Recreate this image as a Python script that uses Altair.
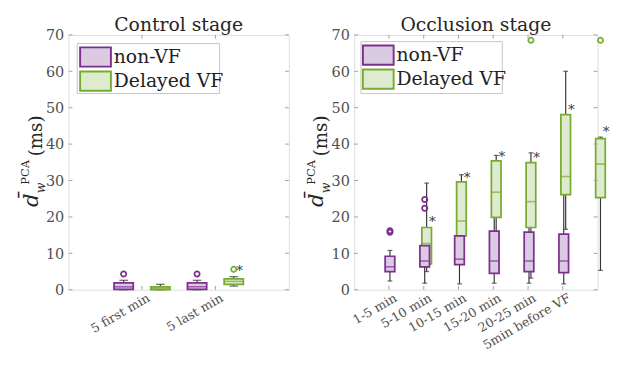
import altair as alt
import pandas as pd

FONT = "DejaVu Serif"
GROUPS = ["non-VF", "Delayed VF"]
P_STROKE, P_FILL = "#7e2f8e", "#dacbe2"
G_STROKE, G_FILL = "#77ac30", "#dfebd1"
WHISK_C = "#333333"
LABEL_C = "#505050"
FRAME_C = "#b8b8b8"

# ---------------- Control stage ----------------
ctrl_title = "Control stage"
ctrl_cats = ["5 first min", "5 last min"]
ctrl_nonvf_lo = [0.0, 0.0]
ctrl_nonvf_q1 = [0.1, 0.1]
ctrl_nonvf_med = [0.8, 0.8]
ctrl_nonvf_q3 = [1.9, 1.9]
ctrl_nonvf_hi = [2.6, 2.6]
ctrl_vf_lo = [0.0, 1.0]
ctrl_vf_q1 = [0.05, 1.5]
ctrl_vf_med = [0.4, 2.3]
ctrl_vf_q3 = [0.8, 3.0]
ctrl_vf_hi = [1.5, 3.6]
ctrl_out_cat = ["5 first min", "5 last min", "5 last min"]
ctrl_out_grp = ["non-VF", "non-VF", "Delayed VF"]
ctrl_out_val = [4.3, 4.3, 5.6]
ctrl_star_cat = ["5 last min"]
ctrl_star_val = [6.3]

# ---------------- Occlusion stage ----------------
occ_title = "Occlusion stage"
occ_cats = ["1-5 min", "5-10 min", "10-15 min", "15-20 min", "20-25 min", "5min before VF"]
occ_nonvf_lo = [2.4, 1.8, 1.6, 1.8, 1.8, 1.6]
occ_nonvf_q1 = [5.0, 6.3, 6.9, 4.5, 5.0, 4.7]
occ_nonvf_med = [6.3, 7.9, 8.4, 7.9, 7.9, 7.9]
occ_nonvf_q3 = [9.2, 12.1, 14.8, 16.1, 15.8, 15.3]
occ_nonvf_hi = [10.8, 13.7, 23.7, 26.4, 28.8, 27.7]
occ_vf_lo = [5.0, 8.7, 5.3, 3.2, 16.6, 5.3]
occ_vf_q1 = [7.1, 14.8, 19.9, 17.1, 26.1, 25.3]
occ_vf_med = [12.7, 18.9, 26.8, 24.2, 31.1, 34.5]
occ_vf_q3 = [17.1, 29.6, 35.4, 34.9, 48.1, 41.5]
occ_vf_hi = [29.3, 31.6, 36.9, 37.6, 60.0, 41.9]
occ_out_cat = ["1-5 min", "1-5 min", "5-10 min", "5-10 min", "15-20 min", "5min before VF"]
occ_out_grp = ["non-VF", "non-VF", "non-VF", "non-VF", "Delayed VF", "Delayed VF"]
occ_out_val = [15.8, 16.2, 22.4, 24.8, 68.5, 68.5]
occ_star_cat = ["1-5 min", "5-10 min", "10-15 min", "15-20 min", "20-25 min", "5min before VF"]
occ_star_val = [19.6, 31.6, 37.5, 37.2, 50.3, 44.4]

Y_TICKS = [0, 10, 20, 30, 40, 50, 60, 70]
H = 265


def box_frame(cats, nlo, nq1, nmed, nq3, nhi, vlo, vq1, vmed, vq3, vhi):
    rows = []
    for i, c in enumerate(cats):
        rows.append(dict(category=c, group="non-VF", lo=nlo[i], q1=nq1[i], med=nmed[i], q3=nq3[i], hi=nhi[i]))
        rows.append(dict(category=c, group="Delayed VF", lo=vlo[i], q1=vq1[i], med=vmed[i], q3=vq3[i], hi=vhi[i]))
    return pd.DataFrame(rows)


def panel(title, cats, bdf, odf, sdf, width, box_w, cap_w, leg):
    xsc = alt.Scale(domain=cats, paddingInner=0, paddingOuter=0.5)
    xax = alt.Axis(title=None, labelAngle=-30, labelAlign="right", labelBaseline="top",
                   labelFont=FONT, labelFontSize=13, labelColor=LABEL_C, ticks=False,
                   domain=False, labelPadding=2, labelOffset=4, grid=False)
    ysc = alt.Scale(domain=[0, 70], nice=False, zero=False, padding=0)
    yax = alt.Axis(title=None, values=Y_TICKS, labelFont=FONT, labelFontSize=15,
                   labelColor=LABEL_C, ticks=False, domain=False, grid=False, labelPadding=5)

    def X():
        return alt.X("category:N", scale=xsc, axis=xax)

    def XO():
        return alt.XOffset("group:N", scale=alt.Scale(domain=GROUPS, paddingInner=0, paddingOuter=0))

    def Y(f):
        return alt.Y(f, type="quantitative", scale=ysc, axis=yax)

    fill = alt.Fill("group:N", scale=alt.Scale(domain=GROUPS, range=[P_FILL, G_FILL]), legend=None)
    stroke = alt.Stroke("group:N", scale=alt.Scale(domain=GROUPS, range=[P_STROKE, G_STROKE]), legend=None)
    color = alt.Color("group:N", scale=alt.Scale(domain=GROUPS, range=[P_STROKE, G_STROKE]), legend=None)

    base = alt.Chart(bdf)
    whisk = base.mark_rule(color=WHISK_C, strokeWidth=1.2).encode(x=X(), xOffset=XO(), y=Y("lo"), y2="hi")
    cap_lo = base.mark_tick(color=WHISK_C, size=cap_w, thickness=1.3, orient="horizontal").encode(
        x=X(), xOffset=XO(), y=Y("lo"))
    cap_hi = base.mark_tick(color=WHISK_C, size=cap_w, thickness=1.3, orient="horizontal").encode(
        x=X(), xOffset=XO(), y=Y("hi"))
    boxes = base.mark_bar(width=box_w, strokeWidth=1.8).encode(
        x=X(), xOffset=XO(), y=Y("q1"), y2="q3", fill=fill, stroke=stroke)
    meds = base.mark_tick(size=box_w, thickness=1.6, orient="horizontal").encode(
        x=X(), xOffset=XO(), y=Y("med"), color=color)
    outs = alt.Chart(odf).mark_point(shape="circle", filled=False, size=30, strokeWidth=1.8, opacity=1).encode(
        x=X(), xOffset=XO(), y=Y("value"), color=color)
    stars = alt.Chart(sdf).mark_text(text="*", font=FONT, fontSize=14, color="#3a3a3a", dx=6, dy=4,
                                     baseline="middle").encode(x=X(), xOffset=XO(), y=Y("value"))

    # inward frame ticks
    ytdf = pd.DataFrame({"v": Y_TICKS})
    ytl = alt.Chart(ytdf).mark_rule(color="#a0a0a0").encode(y=Y("v"), x=alt.value(0), x2=alt.value(4))
    ytr = alt.Chart(ytdf).mark_rule(color="#a0a0a0").encode(y=Y("v"), x=alt.value(width - 4), x2=alt.value(width))
    xtdf = pd.DataFrame({"category": cats})
    xtb = alt.Chart(xtdf).mark_rule(color="#a0a0a0").encode(x=X(), y=alt.value(H), y2=alt.value(H - 4))
    xtt = alt.Chart(xtdf).mark_rule(color="#a0a0a0").encode(x=X(), y=alt.value(0), y2=alt.value(4))

    one = pd.DataFrame({"k": [0]})

    # panel title
    ttl = alt.Chart(one).mark_text(text=title, font=FONT, fontSize=19.5, color="#262626",
                                   align="center", baseline="alphabetic").encode(
        x=alt.value(width / 2), y=alt.value(-4))

    # legend (drawn inside the axes like MATLAB)
    lx0, ly0, lx1, ly1, sx0, sx1, tx = leg
    lbox = alt.Chart(one).mark_rect(fill="white", stroke="#c4c4c4", strokeWidth=1).encode(
        x=alt.value(lx0), x2=alt.value(lx1), y=alt.value(ly0), y2=alt.value(ly1))
    sw1 = alt.Chart(one).mark_rect(fill=P_FILL, stroke=P_STROKE, strokeWidth=2).encode(
        x=alt.value(sx0), x2=alt.value(sx1), y=alt.value(ly0 + 4), y2=alt.value(ly0 + 24))
    sw2 = alt.Chart(one).mark_rect(fill=G_FILL, stroke=G_STROKE, strokeWidth=2).encode(
        x=alt.value(sx0), x2=alt.value(sx1), y=alt.value(ly0 + 29), y2=alt.value(ly0 + 49))
    t1 = alt.Chart(one).mark_text(text=GROUPS[0], font=FONT, fontSize=19.5, color="#222222",
                                  align="left", baseline="middle").encode(x=alt.value(tx), y=alt.value(ly0 + 14))
    t2 = alt.Chart(one).mark_text(text=GROUPS[1], font=FONT, fontSize=19.5, color="#222222",
                                  align="left", baseline="middle").encode(x=alt.value(tx), y=alt.value(ly0 + 39))

    # y axis title  \bar{d}_w^{PCA} (ms)
    yt_d = alt.Chart(one).mark_text(text="d\u0304", font=FONT, fontSize=22, fontStyle="italic", color="#262626",
                                    angle=270, align="center", baseline="middle").encode(
        x=alt.value(-39), y=alt.value(172))
    yt_w = alt.Chart(one).mark_text(text="w", font=FONT, fontSize=13, fontStyle="italic", color="#262626",
                                    angle=270, align="center", baseline="middle").encode(
        x=alt.value(-29), y=alt.value(159))
    yt_p = alt.Chart(one).mark_text(text="PCA", font=FONT, fontSize=12, color="#262626",
                                    angle=270, align="center", baseline="middle").encode(
        x=alt.value(-45), y=alt.value(143))
    yt_ms = alt.Chart(one).mark_text(text="(ms)", font=FONT, fontSize=19, color="#262626",
                                     angle=270, align="center", baseline="middle").encode(
        x=alt.value(-34), y=alt.value(105))

    layers = [whisk, cap_lo, cap_hi, boxes, meds, outs, stars, ytl, ytr, xtb, xtt, ttl,
              lbox, sw1, sw2, t1, t2, yt_d, yt_w, yt_p, yt_ms]
    return alt.layer(*layers).properties(width=width, height=H)


ctrl_box = box_frame(ctrl_cats, ctrl_nonvf_lo, ctrl_nonvf_q1, ctrl_nonvf_med, ctrl_nonvf_q3, ctrl_nonvf_hi,
                     ctrl_vf_lo, ctrl_vf_q1, ctrl_vf_med, ctrl_vf_q3, ctrl_vf_hi)
ctrl_out = pd.DataFrame({"category": ctrl_out_cat, "group": ctrl_out_grp, "value": ctrl_out_val})
ctrl_star = pd.DataFrame({"category": ctrl_star_cat, "group": ["Delayed VF"] * len(ctrl_star_cat),
                          "value": ctrl_star_val})

occ_box = box_frame(occ_cats, occ_nonvf_lo, occ_nonvf_q1, occ_nonvf_med, occ_nonvf_q3, occ_nonvf_hi,
                    occ_vf_lo, occ_vf_q1, occ_vf_med, occ_vf_q3, occ_vf_hi)
occ_out = pd.DataFrame({"category": occ_out_cat, "group": occ_out_grp, "value": occ_out_val})
occ_star = pd.DataFrame({"category": occ_star_cat, "group": ["Delayed VF"] * len(occ_star_cat),
                         "value": occ_star_val})

left = panel(ctrl_title, ctrl_cats, ctrl_box, ctrl_out, ctrl_star, 229, 20, 9,
             (9, 9, 157, 61, 12, 44, 47))
right = panel(occ_title, occ_cats, occ_box, occ_out, occ_star, 253, 10, 5,
              (7, 7, 154, 61, 9, 41, 44))

chart = alt.hconcat(left, right, spacing=15).properties(
    padding={"left": 11, "top": 0, "right": 0, "bottom": -1}
).configure_view(stroke=FRAME_C, strokeWidth=1).configure(font=FONT)

chart.save("out.html", embed_options={"renderer": "svg", "actions": False})
